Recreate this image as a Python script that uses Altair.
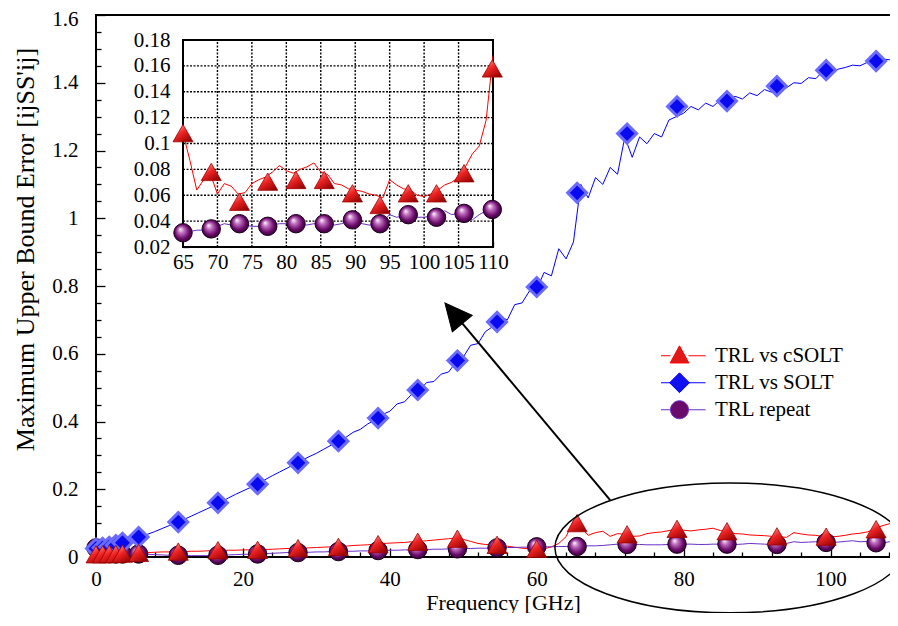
import altair as alt
import pandas as pd

# ---------------- data ----------------
FREQ = list(range(0, 111))  # GHz, 1 GHz sampling

RED = [0.008, 0.008, 0.009, 0.009, 0.010, 0.011, 0.012, 0.013, 0.014, 0.015,
       0.015, 0.016, 0.016, 0.017, 0.017, 0.018, 0.019, 0.019, 0.020, 0.020,
       0.021, 0.021, 0.022, 0.022, 0.023, 0.024, 0.025, 0.026, 0.026, 0.027,
       0.028, 0.029, 0.030, 0.031, 0.032, 0.034, 0.035, 0.036, 0.038, 0.040,
       0.041, 0.042, 0.043, 0.045, 0.046, 0.048, 0.050, 0.052, 0.054, 0.056,
       0.052, 0.046, 0.040, 0.037, 0.036, 0.034, 0.032, 0.029, 0.026, 0.024,
       0.022, 0.024, 0.030, 0.040, 0.060, 0.108, 0.087, 0.064, 0.072, 0.076,
       0.061, 0.069, 0.067, 0.061, 0.062, 0.069, 0.072, 0.074, 0.078, 0.083,
       0.079, 0.077, 0.080, 0.082, 0.085, 0.078, 0.076, 0.069, 0.068, 0.065,
       0.064, 0.063, 0.061, 0.060, 0.058, 0.072, 0.068, 0.065, 0.064, 0.060,
       0.059, 0.061, 0.064, 0.068, 0.070, 0.074, 0.082, 0.092, 0.098, 0.118, 0.168]

BLUE = [0.025, 0.026, 0.028, 0.033, 0.040, 0.048, 0.058, 0.067, 0.075, 0.084,
        0.093, 0.102, 0.111, 0.121, 0.131, 0.141, 0.151, 0.162, 0.174, 0.185,
        0.195, 0.205, 0.216, 0.228, 0.240, 0.251, 0.262, 0.274, 0.285, 0.296,
        0.306, 0.318, 0.330, 0.342, 0.353, 0.368, 0.377, 0.393, 0.404, 0.421,
        0.430, 0.452, 0.458, 0.481, 0.490, 0.515, 0.518, 0.540, 0.546, 0.575,
        0.590, 0.625, 0.630, 0.665, 0.680, 0.710, 0.700, 0.745, 0.750, 0.785,
        0.790, 0.840, 0.830, 0.910, 0.880, 0.930, 1.100, 1.060, 1.120, 1.100,
        1.150, 1.130, 1.240, 1.180, 1.240, 1.220, 1.250, 1.240, 1.290, 1.300,
        1.310, 1.330, 1.320, 1.340, 1.330, 1.350, 1.345, 1.360, 1.352, 1.370,
        1.362, 1.380, 1.372, 1.390, 1.385, 1.400, 1.398, 1.415, 1.412, 1.435,
        1.428, 1.440, 1.445, 1.452, 1.450, 1.460, 1.465, 1.470, 1.468, 1.478, 1.485]

PURPLE = [0.025, 0.018, 0.012, 0.010, 0.009, 0.009, 0.009, 0.008, 0.007, 0.006,
          0.005, 0.004, 0.004, 0.004, 0.004, 0.004, 0.005, 0.005, 0.006, 0.007,
          0.008, 0.008, 0.009, 0.010, 0.011, 0.012, 0.013, 0.013, 0.014, 0.014,
          0.015, 0.015, 0.016, 0.016, 0.017, 0.017, 0.018, 0.018, 0.019, 0.019,
          0.020, 0.020, 0.021, 0.021, 0.022, 0.022, 0.023, 0.023, 0.024, 0.024,
          0.025, 0.025, 0.026, 0.026, 0.027, 0.027, 0.028, 0.028, 0.029, 0.029,
          0.030, 0.030, 0.030, 0.031, 0.031, 0.031, 0.032, 0.033, 0.033, 0.034,
          0.036, 0.038, 0.037, 0.038, 0.037, 0.036, 0.036, 0.036, 0.037, 0.038,
          0.038, 0.038, 0.037, 0.037, 0.038, 0.038, 0.038, 0.037, 0.038, 0.040,
          0.039, 0.038, 0.037, 0.037, 0.040, 0.045, 0.043, 0.044, 0.045, 0.043,
          0.043, 0.044, 0.046, 0.048, 0.045, 0.046, 0.042, 0.041, 0.045, 0.048, 0.049]

# markers of the main plot
MARK_F = [0.0, 0.9, 1.8, 2.7, 3.6, 5.8, 11.2, 16.6, 22.0, 27.5, 33.0, 38.4,
          43.8, 49.2, 54.6, 60.0, 65.5, 72.3, 79.1, 85.9, 92.7, 99.4, 106.2]
RED_MARK = [0.008, 0.008, 0.009, 0.009, 0.010, 0.012, 0.016, 0.020, 0.021, 0.026, 0.030, 0.038,
            0.045, 0.054, 0.036, 0.024, 0.100, 0.067, 0.083, 0.076, 0.061, 0.060, 0.082]
BLUE_MARK = [0.025, 0.027, 0.030, 0.035, 0.042, 0.059, 0.103, 0.160, 0.215, 0.278, 0.342, 0.410,
             0.493, 0.580, 0.694, 0.797, 1.075, 1.250, 1.330, 1.346, 1.390, 1.437, 1.464]
PURPLE_MARK = [0.027, 0.014, 0.010, 0.009, 0.009, 0.009, 0.005, 0.005, 0.009, 0.013, 0.016, 0.019,
               0.022, 0.024, 0.027, 0.030, 0.031, 0.037, 0.038, 0.038, 0.037, 0.043, 0.042]

# markers of the inset
INSET_MARK_F = [65.0, 69.1, 73.2, 77.3, 81.4, 85.5, 89.6, 93.6, 97.7, 101.8, 105.8, 109.9]
INSET_RED_MARK = [0.108, 0.078, 0.055, 0.0705, 0.0718, 0.0718, 0.0615, 0.0525, 0.0615, 0.0615, 0.077, 0.158]
INSET_PURPLE_MARK = [0.031, 0.034, 0.038, 0.036, 0.038, 0.038, 0.041, 0.038, 0.045, 0.043, 0.046, 0.049]

SERIES = ["TRL vs cSOLT", "TRL vs SOLT", "TRL repeat"]

# axis limits and ticks
X_MAIN = [0, 110]
Y_MAIN = [0, 1.6]
XT_MAIN = [i * 4 for i in range(28)]
YT_MAIN = [round(i * 0.05, 2) for i in range(33)]
X_INSET = [65, 110]
Y_INSET = [0.02, 0.18]
XT_INSET = list(range(65, 111))
YT_INSET = [round(0.02 + i * 0.0025, 4) for i in range(65)]
INSET_GRID_X = [70, 75, 80, 85, 90, 95, 100, 105]
INSET_GRID_Y = [0.04, 0.06, 0.08, 0.10, 0.12, 0.14, 0.16]

# annotation anchors (data units)
ELLIPSE_CENTER = [86.3, 0.027]
ARROW_TIP = [47.5, 0.75]
ARROW_BASE = [49.9, 0.689]
ARROW_END = [70.0, 0.168]

# ---------------- styles ----------------
SERIF = "Liberation Serif, Times New Roman, Times, Nimbus Roman, DejaVu Serif, serif"
LINE_COLORS = ["#ff0000", "#0000ff", "#6a2fc8"]
MARKER_FILLS = ["#e01818", "#1010f0", "#6a0a6a"]

TRI_FILL = {"gradient": "linear", "x1": 0.2, "y1": 0, "x2": 0.9, "y2": 1,
            "stops": [{"offset": 0, "color": "#ff9a9a"}, {"offset": 0.45, "color": "#ee2222"},
                      {"offset": 1, "color": "#8a0000"}]}
SPH_FILL = {"gradient": "radial", "x1": 0.35, "y1": 0.3, "r1": 0, "x2": 0.5, "y2": 0.5, "r2": 0.55,
            "stops": [{"offset": 0, "color": "#ffffff"}, {"offset": 0.3, "color": "#c070c0"},
                      {"offset": 0.7, "color": "#6a0a6a"}, {"offset": 1, "color": "#2a002a"}]}

ELLIPSE_PATH = ("M-1,0C-1,-0.2049,-0.5523,-0.371,0,-0.371C0.5523,-0.371,1,-0.2049,1,0"
                "C1,0.2049,0.5523,0.371,0,0.371C-0.5523,0.371,-1,0.2049,-1,0Z")
HEAD_PATH = "M0,0L0.48,1L-0.48,1Z"
LEG_LINE = "M-1.45,0L-0.5,0M0.5,0L1.45,0"
LEGEND_PATHS = [
    LEG_LINE + "M0,-0.55L0.52,0.4L-0.52,0.4Z",
    LEG_LINE + "M0,-0.55L0.55,0L0,0.55L-0.55,0Z",
    LEG_LINE + "M-0.5,0C-0.5,-0.276,-0.276,-0.5,0,-0.5C0.276,-0.5,0.5,-0.276,0.5,0"
               "C0.5,0.276,0.276,0.5,0,0.5C-0.276,0.5,-0.5,0.276,-0.5,0Z",
]

# ---------------- tables ----------------
lines_df = pd.DataFrame({
    "f": FREQ * 3,
    "v": RED + BLUE + PURPLE,
    "series": [SERIES[0]] * len(FREQ) + [SERIES[1]] * len(FREQ) + [SERIES[2]] * len(FREQ),
})
marks_df = pd.DataFrame({
    "f": MARK_F * 3,
    "v": RED_MARK + BLUE_MARK + PURPLE_MARK,
    "series": [SERIES[0]] * len(MARK_F) + [SERIES[1]] * len(MARK_F) + [SERIES[2]] * len(MARK_F),
})
inset_marks_df = pd.DataFrame({
    "f": INSET_MARK_F * 2,
    "v": INSET_RED_MARK + INSET_PURPLE_MARK,
    "series": [SERIES[0]] * len(INSET_MARK_F) + [SERIES[2]] * len(INSET_MARK_F),
})
frame_main_df = pd.DataFrame({"x0": [X_MAIN[0]], "x1": [X_MAIN[1]], "y0": [Y_MAIN[0]], "y1": [Y_MAIN[1]]})
frame_inset_df = pd.DataFrame({"x0": [X_INSET[0]], "x1": [X_INSET[1]], "y0": [Y_INSET[0]], "y1": [Y_INSET[1]]})
gridx_df = pd.DataFrame({"f": INSET_GRID_X, "y0": Y_INSET[0], "y1": Y_INSET[1]})
gridy_df = pd.DataFrame({"v": INSET_GRID_Y, "x0": X_INSET[0], "x1": X_INSET[1]})
ellipse_df = pd.DataFrame({"f": [ELLIPSE_CENTER[0]], "v": [ELLIPSE_CENTER[1]]})
arrow_df = pd.DataFrame({"f": [ARROW_BASE[0]], "v": [ARROW_BASE[1]],
                         "f2": [ARROW_END[0]], "v2": [ARROW_END[1]]})
head_df = pd.DataFrame({"f": [ARROW_TIP[0]], "v": [ARROW_TIP[1]]})

# ---------------- scales and axes ----------------
xs_main = alt.Scale(domain=X_MAIN, nice=False, zero=False)
ys_main = alt.Scale(domain=Y_MAIN, nice=False, zero=False)
xs_in = alt.Scale(domain=X_INSET, range=[87, 397], nice=False, zero=False)
ys_in = alt.Scale(domain=Y_INSET, range=[232, 25], nice=False, zero=False)

common = dict(labelFont=SERIF, labelFontSize=21, labelColor="black", labelOverlap=False,
              labelFlush=False, tickColor="black", tickWidth=1.3, domain=False, grid=False)

Y_TITLE = "Maximum Upper Bound Error [ijSS'ij]"
X_TITLE = "Frequency [GHz]"

ax_x_main = alt.Axis(values=XT_MAIN, format="d",
                     labelExpr="datum.value % 20 == 0 ? datum.label : ''",
                     tickSize={"expr": "datum.value % 20 == 0 ? -9 : -5"}, labelPadding=20,
                     title=X_TITLE, titleFont=SERIF, titleFontSize=22,
                     titleFontWeight="normal", titleColor="black", titleY=52, titleX=407,
                     titleBaseline="alphabetic", **common)
ax_y_main = alt.Axis(values=YT_MAIN, format="~g",
                     labelExpr="abs(datum.value*5 - round(datum.value*5)) < 0.001 ? datum.label : ''",
                     tickSize={"expr": "abs(datum.value*5 - round(datum.value*5)) < 0.001 ? -9 : -5"},
                     labelOffset={"expr": "datum.value > 1.55 ? 4 : 0"},
                     labelPadding=27,
                     title=Y_TITLE, titleFont=SERIF, titleFontSize=26,
                     titleFontWeight="normal", titleColor="black", titleX=-71, titleY=234,
                     titleBaseline="middle", **common)
ax_x_in = alt.Axis(values=XT_INSET, orient="bottom", offset=-310, format="d",
                   labelExpr="datum.value % 5 == 0 ? datum.label : ''",
                   tickSize={"expr": "-6"}, labelPadding=10, title=None, **common)
ax_y_in = alt.Axis(values=YT_INSET, orient="left", offset=-87, format=".2~f",
                   labelExpr="abs(datum.value*50 - round(datum.value*50)) < 0.0001 ? datum.label : ''",
                   tickSize={"expr": "-6"}, labelPadding=19, title=None, **common)


def X(field, main=True):
    return alt.X(field, type="quantitative", scale=xs_main if main else xs_in,
                 axis=ax_x_main if main else ax_x_in, title=X_TITLE if main else None)


def Y(field, main=True):
    return alt.Y(field, type="quantitative", scale=ys_main if main else ys_in,
                 axis=ax_y_main if main else ax_y_in, title=Y_TITLE if main else None)


# ---------------- main plot ----------------
frame_main = alt.Chart(frame_main_df).mark_rect(fillOpacity=0, stroke="black", strokeWidth=2).encode(
    x=X("x0"), x2="x1", y=Y("y0"), y2="y1")


def line_layer(df, name, color, main=True):
    return alt.Chart(df).transform_filter(alt.datum.series == name).mark_line(
        color=color, strokeWidth=1).encode(x=X("f", main), y=Y("v", main))


def tri_layer(df, main=True):
    return alt.Chart(df).transform_filter(alt.datum.series == SERIES[0]).mark_point(
        shape="triangle-up", size=400, filled=True, fill=TRI_FILL, stroke="#a00000",
        strokeWidth=0.8, opacity=1).encode(x=X("f", main), y=Y("v", main))


def sph_layer(df, main=True):
    return alt.Chart(df).transform_filter(alt.datum.series == SERIES[2]).mark_point(
        shape="circle", size=340, filled=True, fill=SPH_FILL, stroke="#1a001a",
        strokeWidth=1, opacity=1).encode(x=X("f", main), y=Y("v", main))


dia_layer = alt.Chart(marks_df).transform_filter(alt.datum.series == SERIES[1]).mark_point(
    shape="diamond", size=360, filled=True, fill="#0a0af0", stroke="#6b6bff",
    strokeWidth=3, opacity=1).encode(x=X("f"), y=Y("v"))

ellipse = alt.Chart(ellipse_df).mark_point(shape=ELLIPSE_PATH, size=122500, filled=False,
                                           stroke="black", strokeWidth=1.5, opacity=1).encode(
    x=X("f"), y=Y("v"))
arrow_line = alt.Chart(arrow_df).mark_rule(color="black", strokeWidth=2).encode(
    x=X("f"), y=Y("v"), x2="f2", y2="v2")
arrow_head = alt.Chart(head_df).mark_point(shape=HEAD_PATH, size=2916, filled=True, fill="black",
                                           stroke="black", strokeWidth=1, angle=320, opacity=1).encode(
    x=X("f"), y=Y("v"))

leg = alt.Legend(title=None, orient="none", legendX=565, legendY=327.5, padding=0,
                 labelFont=SERIF, labelFontSize=21, labelColor="black", labelOffset=17,
                 symbolSize=1296, symbolStrokeWidth=1, rowPadding=0, clipHeight=26.5)
legend_layer = alt.Chart(marks_df).transform_filter("false").mark_point(
    filled=False, strokeWidth=1, opacity=1).encode(
    x=X("f"), y=Y("v"),
    color=alt.Color("series:N", scale=alt.Scale(domain=SERIES, range=LINE_COLORS), legend=leg),
    fill=alt.Fill("series:N", scale=alt.Scale(domain=SERIES, range=MARKER_FILLS), legend=leg),
    shape=alt.Shape("series:N", scale=alt.Scale(domain=SERIES, range=LEGEND_PATHS), legend=leg),
)

main = alt.layer(
    frame_main,
    line_layer(lines_df, SERIES[0], LINE_COLORS[0]),
    line_layer(lines_df, SERIES[1], LINE_COLORS[1]),
    line_layer(lines_df, SERIES[2], LINE_COLORS[2]),
    sph_layer(marks_df),
    dia_layer,
    tri_layer(marks_df),
    ellipse, arrow_line, arrow_head, legend_layer,
)

# ---------------- inset ----------------
inset_lines = lines_df[lines_df["f"] >= X_INSET[0]]
frame_in = alt.Chart(frame_inset_df).mark_rect(fill="white", stroke="black", strokeWidth=2).encode(
    x=X("x0", False), x2="x1", y=Y("y0", False), y2="y1")
grid_v = alt.Chart(gridx_df).mark_rule(color="black", strokeWidth=1.4, strokeDash=[2, 1.5]).encode(
    x=X("f", False), y=Y("y0", False), y2="y1")
grid_h = alt.Chart(gridy_df).mark_rule(color="black", strokeWidth=1.4, strokeDash=[2, 1.5]).encode(
    y=Y("v", False), x=X("x0", False), x2="x1")

inset = alt.layer(
    frame_in, grid_v, grid_h,
    line_layer(inset_lines, SERIES[0], LINE_COLORS[0], False),
    line_layer(inset_lines, SERIES[2], LINE_COLORS[2], False),
    sph_layer(inset_marks_df, False),
    tri_layer(inset_marks_df, False),
)

chart = alt.layer(main, inset).resolve_scale(
    x="independent", y="independent"
).properties(
    width=808, height=542,
    padding={"left": 88, "top": 7, "right": -14, "bottom": 56},
    autosize=alt.AutoSizeParams(type="none"),
    background="white",
).configure_view(stroke=None).configure_axis(grid=False)

chart.save("out.html", embed_options={"renderer": "svg", "actions": False})
